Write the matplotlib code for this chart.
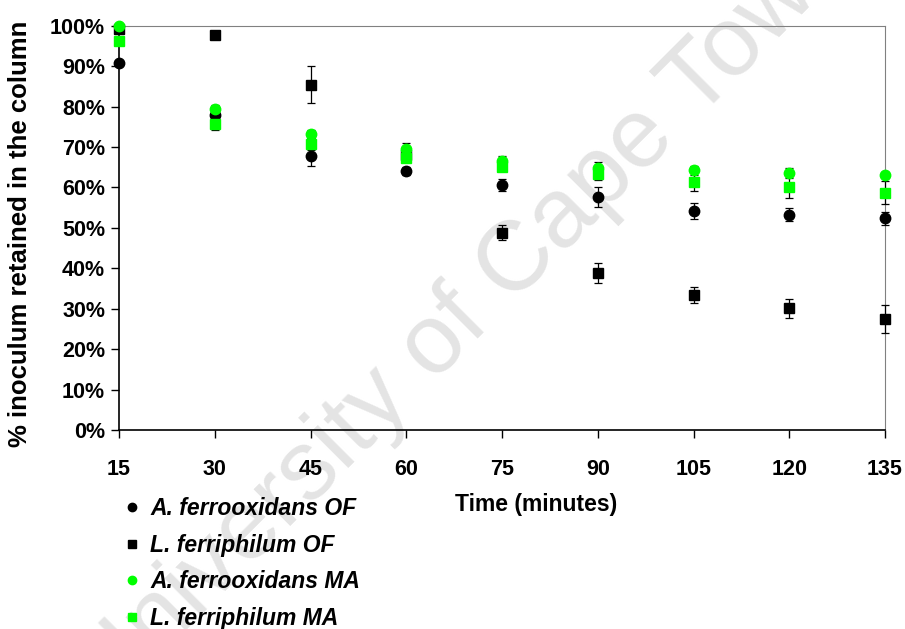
import numpy as np
import matplotlib.pyplot as plt
from matplotlib.lines import Line2D

plt.rcParams['font.family'] = ['Liberation Sans', 'DejaVu Sans']
plt.rcParams['font.weight'] = 'bold'

time = [15, 30, 45, 60, 75, 90, 105, 120, 135]

af_of = [90.8, 77.9, 67.8, 64.0, 60.6, 57.6, 54.2, 53.2, 52.4]
af_of_err = [0.5, 1.0, 2.5, 1.0, 1.6, 2.5, 2.0, 1.6, 1.6]
lf_of = [99.3, 97.8, 85.4, 68.0, 48.8, 38.9, 33.4, 30.1, 27.5]
lf_of_err = [0.5, 0.5, 4.6, 1.0, 1.8, 2.5, 1.9, 2.3, 3.4]
af_ma = [100.0, 79.5, 73.1, 69.4, 66.5, 64.8, 64.2, 63.5, 63.1]
af_ma_err = [0.3, 1.0, 1.0, 1.7, 1.3, 1.6, 1.2, 1.2, 0.8]
lf_ma = [96.2, 75.6, 70.7, 67.3, 65.0, 63.3, 61.4, 60.2, 58.7]
lf_ma_err = [0.5, 1.5, 1.5, 1.0, 1.0, 1.5, 2.3, 2.7, 2.8]

labels = ["A. ferrooxidans OF", "L. ferriphilum OF",
          "A. ferrooxidans MA", "L. ferriphilum MA"]
green = "#00ff00"

fig = plt.figure(figsize=(9.05, 6.29), dpi=100)
ax = fig.add_axes([119 / 905, 1 - 430 / 629, (885 - 119) / 905, (430 - 25.7) / 629])
ax.patch.set_alpha(0)

# watermark behind the data
fig.text(465 / 905, 1 - 315 / 629, "University of Cape Town", rotation=45, fontsize=71,
         fontweight='normal', color="#e4e4e4", ha='center', va='center', zorder=-1)

series = [
    (af_of, af_of_err, 'o', 'black', 7.5),
    (lf_of, lf_of_err, 's', 'black', 7),
    (af_ma, af_ma_err, 'o', green, 7.5),
    (lf_ma, lf_ma_err, 's', green, 7),
]
for vals, err, mk, col, ms in series:
    ax.errorbar(time, vals, yerr=err, fmt=mk, color=col, ms=ms, mec=col,
                ecolor='black', elinewidth=0.9, capsize=3, capthick=0.9,
                linestyle='none', clip_on=False, zorder=3)

ax.set_xlim(15, 135)
ax.set_ylim(0, 100)
ax.set_xticks(time)
ax.set_yticks(np.arange(0, 101, 10))
ax.set_yticklabels([f"{v}%" for v in range(0, 101, 10)])
ax.tick_params(direction='out', length=6, width=1, labelsize=15.5, pad=4)
ax.tick_params(axis='x', pad=15)
for s in ['top', 'right']:
    ax.spines[s].set_color('#808080')
for s in ['left', 'bottom']:
    ax.spines[s].set_color('black')
    ax.spines[s].set_linewidth(1.2)

ax.set_xlabel("Time (minutes)", fontsize=16.5, fontweight='bold')
ax.xaxis.set_label_coords(0.544, -0.155)
ax.set_ylabel("% inoculum retained in the column", fontsize=18.5, fontweight='bold')
ax.yaxis.set_label_coords(-0.113, 0.485)

handles = [
    Line2D([], [], marker='o', color='black', ls='none', ms=6),
    Line2D([], [], marker='s', color='black', ls='none', ms=5.5),
    Line2D([], [], marker='o', color=green, ls='none', ms=6),
    Line2D([], [], marker='s', color=green, ls='none', ms=5.5),
]
fig.legend(handles, labels, loc='upper left', bbox_to_anchor=(125 / 905, 1 - 497 / 629),
           frameon=False, handlelength=0.6, handletextpad=0.5, labelspacing=0.6,
           borderpad=0, borderaxespad=0,
           prop={'size': 16.5, 'weight': 'bold', 'style': 'italic'})

fig.savefig("out.png", dpi=100)
